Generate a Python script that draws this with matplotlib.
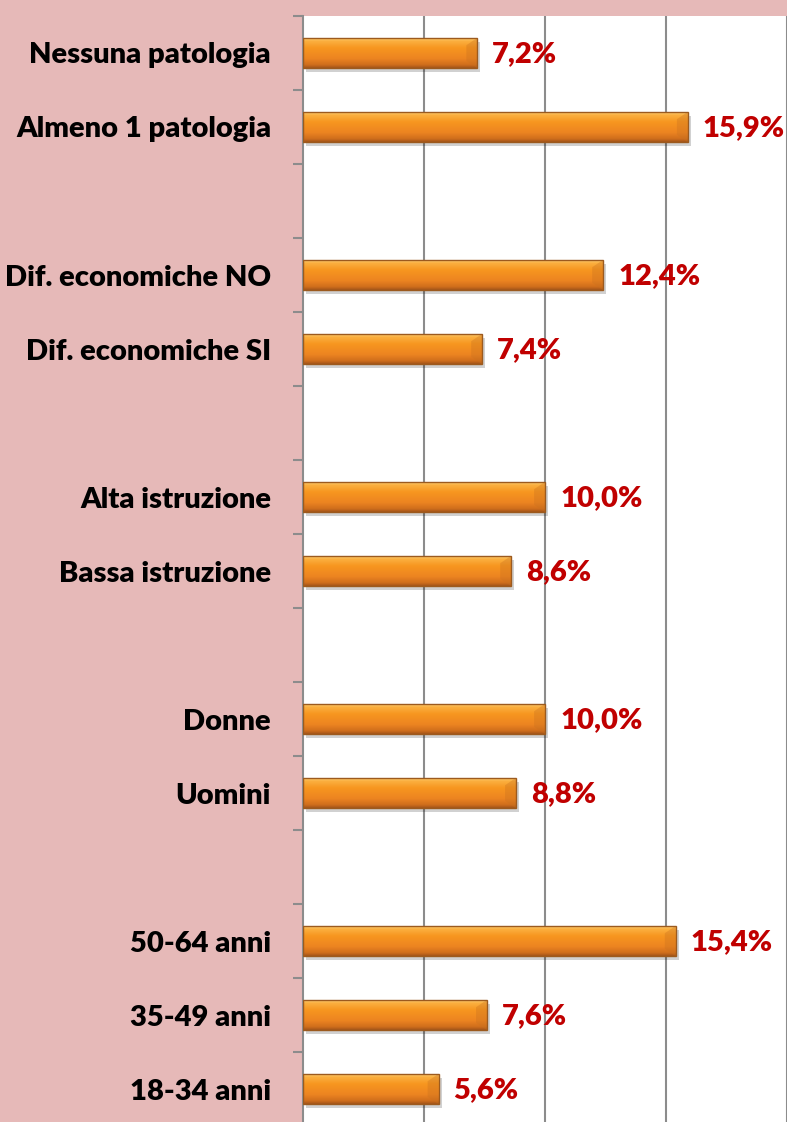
import matplotlib
matplotlib.use("Agg")
import matplotlib.pyplot as plt
import matplotlib.transforms as mtransforms
from matplotlib.colors import LinearSegmentedColormap
import numpy as np

categories = ["Nessuna patologia", "Almeno 1 patologia", "",
              "Dif. economiche NO", "Dif. economiche SI", "",
              "Alta istruzione", "Bassa istruzione", "",
              "Donne", "Uomini", "",
              "50-64 anni", "35-49 anni", "18-34 anni"]
values = [7.2, 15.9, None,
          12.4, 7.4, None,
          10.0, 8.6, None,
          10.0, 8.8, None,
          15.4, 7.6, 5.6]
value_labels = ["7,2%", "15,9%", "", "12,4%", "7,4%", "", "10,0%", "8,6%", "",
                "10,0%", "8,8%", "", "15,4%", "7,6%", "5,6%"]

PINK = "#E6B9B8"
W, H = 787, 1122
fig = plt.figure(figsize=(W / 100, H / 100), dpi=100, facecolor=PINK)
ax = fig.add_axes([303 / W, -4 / H, 484 / W, 1110 / H])
ax.set_facecolor("white")

n = len(categories)
ypos = np.arange(n)
ax.set_xlim(0, 20)
ax.set_ylim(n - 0.5, -0.5)

for gx in [5, 10, 15, 20]:
    ax.axvline(gx, color="#8C8C8C", lw=1.5, zorder=0)

bar_h = 0.41
cmap = LinearSegmentedColormap.from_list(
    "og", [(0.0, "#FFD98A"), (0.12, "#FBB040"), (0.35, "#F7961F"),
           (0.7, "#EC8421"), (0.9, "#D06E1C"), (1.0, "#A5561A")])
grad = np.linspace(0, 1, 64).reshape(-1, 1)

shadow_tr = ax.transData + mtransforms.ScaledTranslation(3 / 100, -4 / 100, fig.dpi_scale_trans)
for y, v, lab in zip(ypos, values, value_labels):
    if v is None:
        continue
    ax.barh(y, v, height=bar_h, color="#000000", alpha=0.18, transform=shadow_tr, zorder=1)
    bars = ax.barh(y, v, height=bar_h, color="none", edgecolor="#9C5A1E", lw=1.0, zorder=3)
    patch = bars[0]
    im = ax.imshow(grad, cmap=cmap, aspect="auto",
                   extent=(0, v, y + bar_h / 2, y - bar_h / 2), zorder=2)
    im.set_clip_path(patch)
    ax.fill([v, v - 0.45, v - 0.45, v], [y - bar_h / 2, y - bar_h / 2 + 0.1, y + bar_h / 2 - 0.1, y + bar_h / 2],
            color="#C9711F", alpha=0.35, zorder=2.5, lw=0)
    ax.text(v + 0.62, y + 0.02, lab, color="#C00000", fontsize=21, fontweight="heavy",
            family="Lato", va="center", ha="left", zorder=4)

for s in ["top", "right", "bottom"]:
    ax.spines[s].set_visible(False)
ax.spines["left"].set_color("#8C8C8C")
ax.spines["left"].set_linewidth(1.5)
ax.set_xticks([])
ax.set_yticks(ypos)
ax.set_yticklabels(categories, fontsize=21, fontweight="heavy", family="Lato")
ax.tick_params(axis="y", which="major", length=0, pad=23)
ax.set_yticks(np.arange(-0.5, n, 1), minor=True)
ax.tick_params(axis="y", which="minor", length=7, width=1.5, color="#8C8C8C")

fig.savefig("out.png", dpi=100, facecolor=PINK)
